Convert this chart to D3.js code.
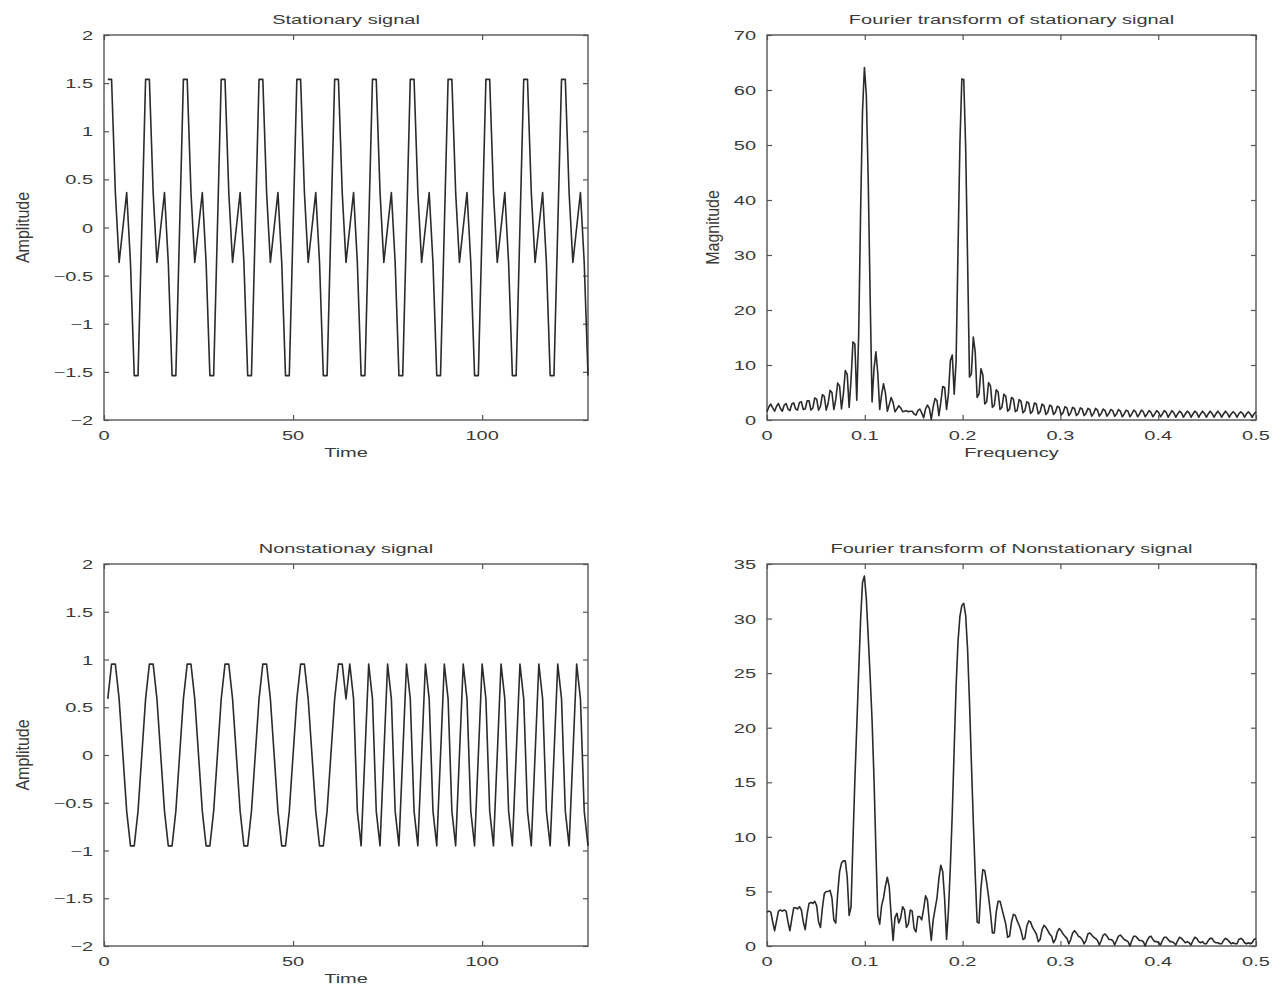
<!DOCTYPE html>
<html><head><meta charset="utf-8">
<script src="https://cdn.jsdelivr.net/npm/d3@7"></script>
<style>
body{margin:0;background:#fff}
text{font-family:"Liberation Sans",Arial,Helvetica,sans-serif;fill:#3a3a3a}
</style>
</head><body>
<svg id="chart" width="1281" height="988"></svg>
<script>
// Stationary signal samples, t = 1..128
const stationarySignal = [
1.5388,1.5388,0.3633,-0.3633,0,0.3633,-0.3633,-1.5388,-1.5388,0,
1.5388,1.5388,0.3633,-0.3633,0,0.3633,-0.3633,-1.5388,-1.5388,0,
1.5388,1.5388,0.3633,-0.3633,0,0.3633,-0.3633,-1.5388,-1.5388,0,
1.5388,1.5388,0.3633,-0.3633,0,0.3633,-0.3633,-1.5388,-1.5388,0,
1.5388,1.5388,0.3633,-0.3633,0,0.3633,-0.3633,-1.5388,-1.5388,0,
1.5388,1.5388,0.3633,-0.3633,0,0.3633,-0.3633,-1.5388,-1.5388,0,
1.5388,1.5388,0.3633,-0.3633,0,0.3633,-0.3633,-1.5388,-1.5388,0,
1.5388,1.5388,0.3633,-0.3633,0,0.3633,-0.3633,-1.5388,-1.5388,0,
1.5388,1.5388,0.3633,-0.3633,0,0.3633,-0.3633,-1.5388,-1.5388,0,
1.5388,1.5388,0.3633,-0.3633,0,0.3633,-0.3633,-1.5388,-1.5388,0,
1.5388,1.5388,0.3633,-0.3633,0,0.3633,-0.3633,-1.5388,-1.5388,0,
1.5388,1.5388,0.3633,-0.3633,0,0.3633,-0.3633,-1.5388,-1.5388,0,
1.5388,1.5388,0.3633,-0.3633,0,0.3633,-0.3633,-1.5388];

// Nonstationary signal samples, t = 1..128
const nonstationarySignal = [
0.5878,0.9511,0.9511,0.5878,0,-0.5878,-0.9511,-0.9511,-0.5878,0,
0.5878,0.9511,0.9511,0.5878,0,-0.5878,-0.9511,-0.9511,-0.5878,0,
0.5878,0.9511,0.9511,0.5878,0,-0.5878,-0.9511,-0.9511,-0.5878,0,
0.5878,0.9511,0.9511,0.5878,0,-0.5878,-0.9511,-0.9511,-0.5878,0,
0.5878,0.9511,0.9511,0.5878,0,-0.5878,-0.9511,-0.9511,-0.5878,0,
0.5878,0.9511,0.9511,0.5878,0,-0.5878,-0.9511,-0.9511,-0.5878,0,
0.5878,0.9511,0.9511,0.5878,
0.9511,0.5878,-0.5878,-0.9511,0, 0.9511,0.5878,-0.5878,-0.9511,0,
0.9511,0.5878,-0.5878,-0.9511,0, 0.9511,0.5878,-0.5878,-0.9511,0,
0.9511,0.5878,-0.5878,-0.9511,0, 0.9511,0.5878,-0.5878,-0.9511,0,
0.9511,0.5878,-0.5878,-0.9511,0, 0.9511,0.5878,-0.5878,-0.9511,0,
0.9511,0.5878,-0.5878,-0.9511,0, 0.9511,0.5878,-0.5878,-0.9511,0,
0.9511,0.5878,-0.5878,-0.9511,0, 0.9511,0.5878,-0.5878,-0.9511,0,
0.9511,0.5878,-0.5878,-0.9511];

// Magnitude spectrum of the stationary signal, frequency step 1/512 from 0 to 0.5
const stationaryMagnitude = [
1.5,2.4,2.9,2.2,1.6,2.5,3.0,2.1,1.6,2.7,3.0,2.0,1.7,2.9,3.1,2.0,1.8,3.2,3.3,1.9,
2.0,3.5,3.5,1.8,2.2,4.0,3.8,1.8,2.5,4.6,4.3,1.8,3.0,5.4,5.0,1.9,3.7,6.7,6.2,2.0,
4.8,9.0,8.3,2.3,7.3,14.2,13.8,3.6,15.6,37.8,56.1,64.1,59.1,43.4,22.4,3.3,9.2,12.4,8.5,1.9,
4.6,6.6,4.9,1.6,2.8,4.1,3.2,1.5,2.0,2.6,2.2,1.5,1.6,1.7,1.5,1.6,1.6,1.1,0.9,1.7,
2.0,1.3,0.4,2.0,2.7,2.1,0.1,2.4,3.9,3.5,0.8,3.2,6.1,5.9,1.9,4.8,10.8,11.8,4.7,10.7,
31.0,50.3,62.0,61.9,49.7,29.4,7.8,8.4,15.1,12.4,4.1,4.7,9.3,8.2,2.9,3.3,6.8,6.2,2.3,2.7,
5.5,5.1,1.9,2.3,4.7,4.3,1.6,2.0,4.1,3.8,1.5,1.8,3.7,3.4,1.3,1.7,3.3,3.1,1.2,1.6,
3.1,2.9,1.1,1.5,2.9,2.6,1.0,1.4,2.7,2.5,1.0,1.4,2.5,2.3,0.9,1.3,2.4,2.2,0.8,1.3,
2.3,2.1,0.8,1.2,2.2,2.0,0.8,1.2,2.1,1.9,0.7,1.2,2.1,1.8,0.7,1.2,2.0,1.7,0.7,1.2,
1.9,1.7,0.7,1.1,1.9,1.6,0.6,1.1,1.8,1.6,0.6,1.1,1.8,1.5,0.6,1.1,1.8,1.5,0.6,1.1,
1.7,1.4,0.6,1.1,1.7,1.4,0.6,1.1,1.7,1.4,0.5,1.1,1.7,1.3,0.5,1.1,1.6,1.3,0.5,1.1,
1.6,1.3,0.5,1.1,1.6,1.3,0.5,1.1,1.6,1.2,0.5,1.1,1.6,1.2,0.5,1.1,1.6,1.2,0.5,1.1,
1.6,1.2,0.5,1.1,1.5,1.2,0.5,1.1,1.5,1.2,0.5,1.1,1.5,1.1,0.5,1.1,1.5];

// Magnitude spectrum of the nonstationary signal, frequency step 1/512 from 0 to 0.5
const nonstationaryMagnitude = [
3.1,3.2,3.1,2.2,1.4,2.3,3.2,3.3,3.2,3.3,3.2,2.2,1.4,2.5,3.5,3.5,3.4,3.6,3.3,2.2,
1.5,2.9,3.9,4.0,3.9,4.1,3.7,2.2,1.7,3.5,4.8,5.0,5.0,5.1,4.4,2.4,2.1,4.8,6.8,7.6,
7.8,7.8,6.3,2.8,3.6,9.6,15.2,20.1,25.1,29.9,33.3,33.9,31.8,28.3,24.7,20.7,15.4,8.9,2.8,2.0,
3.7,4.4,5.5,6.3,5.4,2.8,0.5,2.6,3.0,2.1,2.6,3.6,3.3,1.7,2.0,3.3,3.2,1.6,1.3,2.7,
2.7,2.4,3.4,4.6,4.2,2.2,0.5,2.4,3.4,4.4,6.2,7.4,6.8,4.3,0.6,3.3,7.3,12.2,18.1,23.8,
27.9,30.2,31.2,31.4,30.3,27.2,22.4,16.8,11.4,6.6,2.2,2.1,5.3,7.0,6.9,5.8,4.5,3.0,1.2,1.2,
3.1,4.1,4.1,3.4,2.7,2.0,0.8,0.9,2.2,2.9,2.8,2.3,1.9,1.4,0.6,0.7,1.8,2.3,2.2,1.7,
1.4,1.1,0.4,0.6,1.5,1.9,1.7,1.4,1.1,0.9,0.3,0.6,1.3,1.6,1.4,1.1,0.9,0.7,0.2,0.6,
1.2,1.4,1.2,0.9,0.8,0.6,0.2,0.5,1.1,1.2,1.0,0.8,0.7,0.5,0.1,0.5,1.0,1.1,0.9,0.6,
0.6,0.5,0.1,0.5,0.9,1.0,0.8,0.6,0.5,0.4,0.0,0.5,0.9,0.9,0.7,0.5,0.5,0.4,0.0,0.5,
0.8,0.9,0.6,0.4,0.4,0.3,0.1,0.5,0.8,0.8,0.6,0.4,0.4,0.3,0.1,0.5,0.8,0.7,0.5,0.3,
0.4,0.3,0.1,0.5,0.8,0.7,0.4,0.3,0.4,0.2,0.2,0.5,0.7,0.7,0.4,0.3,0.3,0.2,0.2,0.5,
0.7,0.6,0.4,0.2,0.3,0.2,0.2,0.6,0.7,0.6,0.3,0.2,0.3,0.2,0.3,0.6,0.7];

const timeStart = 1;          // first sample index
const freqStep = 1/512;       // spectral sample spacing

const timeTicks=[0,50,100];
const ampTicks=[-2,-1.5,-1,-0.5,0,0.5,1,1.5,2];
const freqTicks=[0,0.1,0.2,0.3,0.4,0.5];
const magTicksTop=[0,10,20,30,40,50,60,70];
const magTicksBottom=[0,5,10,15,20,25,30,35];

const svg=d3.select('#chart');
const SX=1.6;
const fmt=v=>{const s=String(v);return v<0?'\u2212'+s.slice(1):s;};

function panel(c){
  const x=d3.scaleLinear().domain(c.xDomain).range([c.left,c.right]);
  const y=d3.scaleLinear().domain(c.yDomain).range([c.bottom,c.top]);
  const g=svg.append('g');
  const tk=5;
  g.append('g').attr('transform',`translate(0,${c.bottom})`).call(d3.axisBottom(x).tickValues(c.xTicks).tickSize(-tk).tickFormat(''));
  g.append('g').attr('transform',`translate(0,${c.top})`).call(d3.axisTop(x).tickValues(c.xTicks).tickSize(-tk).tickFormat(''));
  g.append('g').attr('transform',`translate(${c.left},0)`).call(d3.axisLeft(y).tickValues(c.yTicks).tickSize(-tk).tickFormat(''));
  g.append('g').attr('transform',`translate(${c.right},0)`).call(d3.axisRight(y).tickValues(c.yTicks).tickSize(-tk).tickFormat(''));
  g.selectAll('.domain').remove();
  g.selectAll('.tick line').attr('stroke','#555').attr('stroke-width',1.2);
  g.append('rect').attr('x',c.left).attr('y',c.top).attr('width',c.right-c.left).attr('height',c.bottom-c.top)
    .attr('fill','none').attr('stroke','#555').attr('stroke-width',1.4);
  const line=d3.line().x(d=>x(d[0])).y(d=>y(d[1]));
  g.append('path').datum(c.data).attr('d',line).attr('fill','none').attr('stroke','#2b2b2b')
    .attr('stroke-width',1.6).attr('stroke-linejoin','round');
  c.xTicks.forEach(v=>{
    g.append('text').attr('transform',`translate(${x(v)},${c.bottom+20}) scale(${SX},1)`)
      .attr('text-anchor','middle').attr('font-size',12.5).text(fmt(v));
  });
  c.yTicks.forEach(v=>{
    g.append('text').attr('transform',`translate(${c.left-11},${y(v)+5}) scale(${SX},1)`)
      .attr('text-anchor','end').attr('font-size',12.5).text(fmt(v));
  });
  const cx=(c.left+c.right)/2;
  g.append('text').attr('transform',`translate(${cx},${c.top-11}) scale(${SX},1)`)
    .attr('text-anchor','middle').attr('font-size',12.5).text(c.title);
  if(c.xLabel) g.append('text').attr('transform',`translate(${cx},${c.bottom+37}) scale(${SX},1)`)
    .attr('text-anchor','middle').attr('font-size',12.5).text(c.xLabel);
  if(c.yLabel) g.append('text').attr('transform',`translate(${c.left-c.yLabelOffset},${(c.top+c.bottom)/2}) rotate(-90) scale(1,1.15)`)
    .attr('text-anchor','middle').attr('font-size',16).text(c.yLabel);
}

panel({left:104,right:588,top:35,bottom:420,xDomain:[0,128],yDomain:[-2,2],xTicks:timeTicks,yTicks:ampTicks,
  data:stationarySignal.map((v,i)=>[timeStart+i,v]),title:'Stationary signal',xLabel:'Time',yLabel:'Amplitude',yLabelOffset:75});
panel({left:767,right:1256,top:35,bottom:420,xDomain:[0,0.5],yDomain:[0,70],xTicks:freqTicks,yTicks:magTicksTop,
  data:stationaryMagnitude.map((v,i)=>[i*freqStep,v]),title:'Fourier transform of stationary signal',xLabel:'Frequency',yLabel:'Magnitude',yLabelOffset:48});
panel({left:104,right:588,top:564,bottom:946,xDomain:[0,128],yDomain:[-2,2],xTicks:timeTicks,yTicks:ampTicks,
  data:nonstationarySignal.map((v,i)=>[timeStart+i,v]),title:'Nonstationay signal',xLabel:'Time',yLabel:'Amplitude',yLabelOffset:75});
panel({left:767,right:1256,top:564,bottom:946,xDomain:[0,0.5],yDomain:[0,35],xTicks:freqTicks,yTicks:magTicksBottom,
  data:nonstationaryMagnitude.map((v,i)=>[i*freqStep,v]),title:'Fourier transform of Nonstationary signal'});
</script>
</body></html>
